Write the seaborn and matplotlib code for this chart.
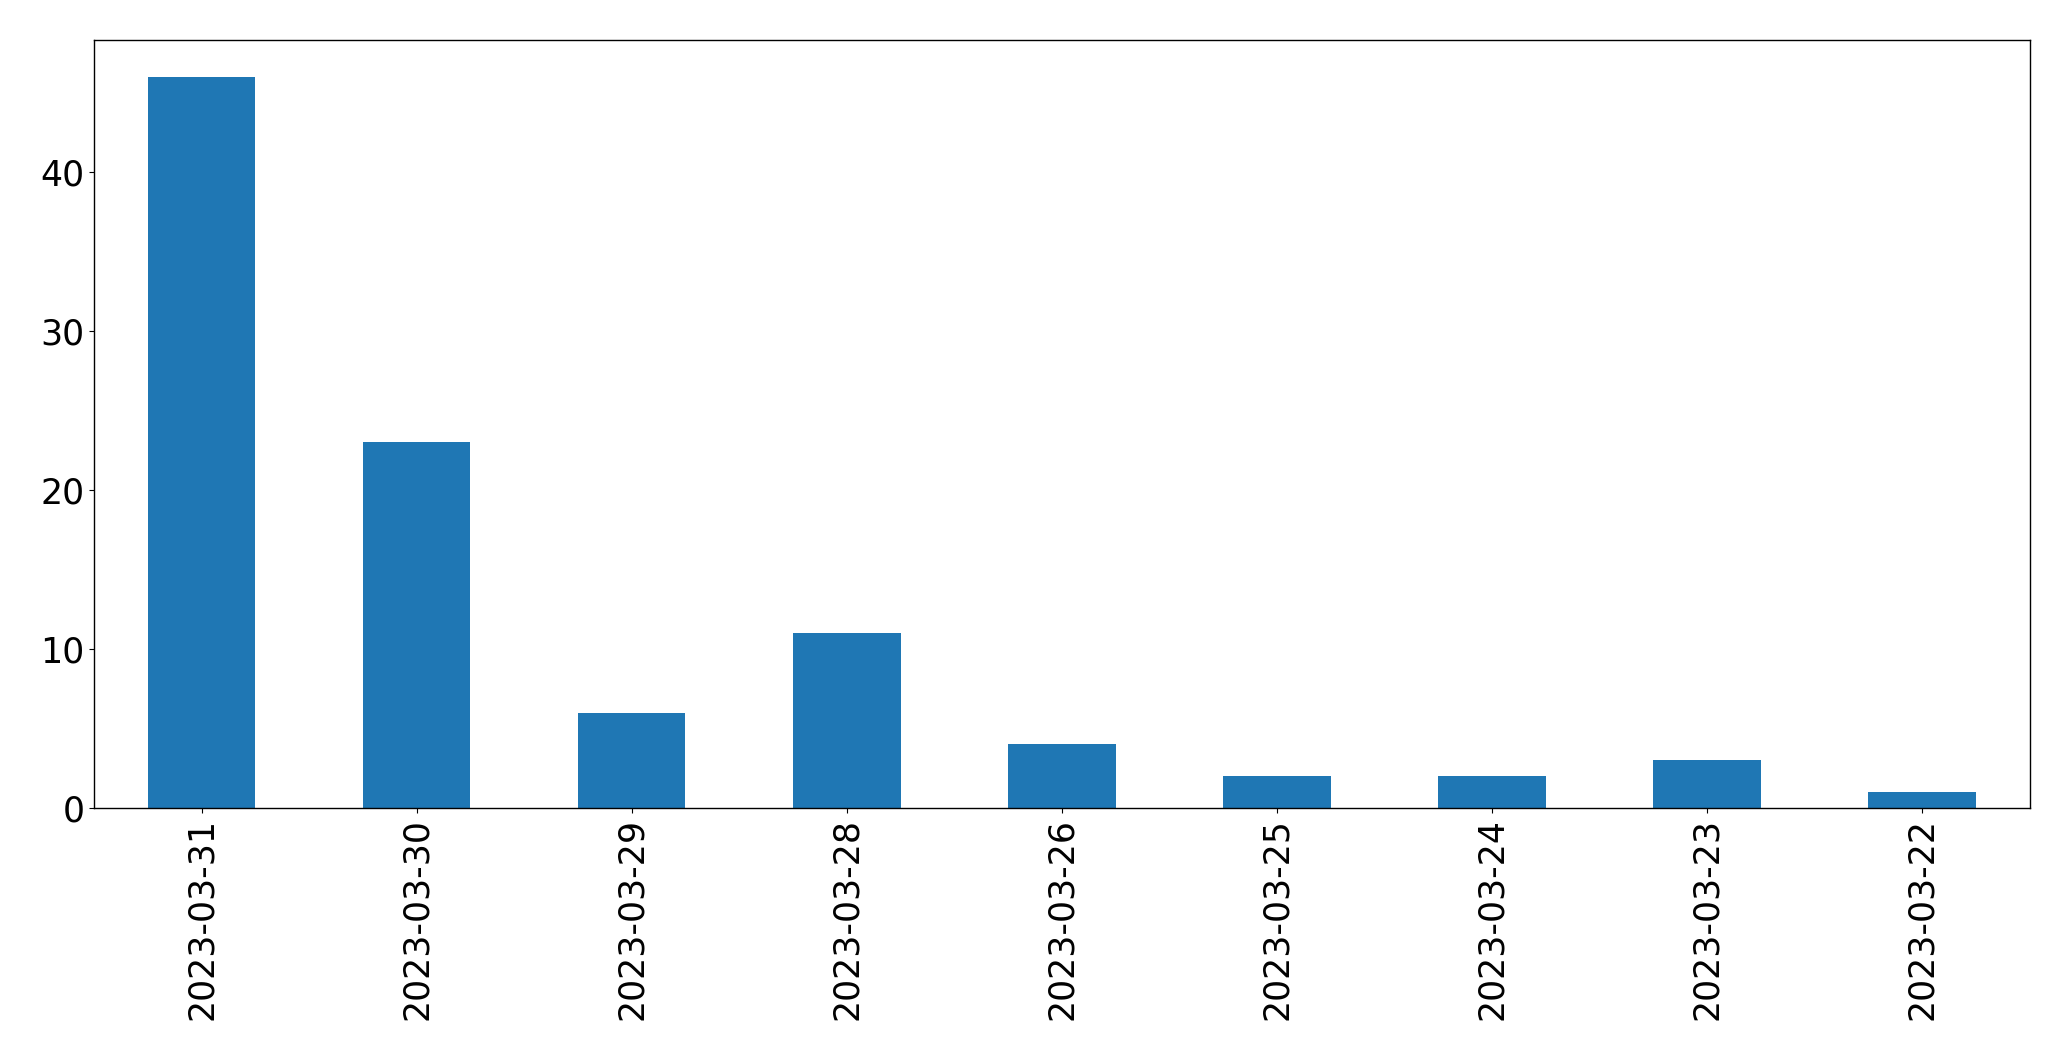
import matplotlib
matplotlib.use("Agg")
import matplotlib.pyplot as plt
import seaborn as sns
import pandas as pd

dates = ["2023-03-31", "2023-03-30", "2023-03-29", "2023-03-28", "2023-03-26",
         "2023-03-25", "2023-03-24", "2023-03-23", "2023-03-22"]
counts = [46, 23, 6, 11, 4, 2, 2, 3, 1]

df = pd.DataFrame({"date": dates, "count": counts})

fig, ax = plt.subplots(figsize=(20.71, 10.61), dpi=100)
sns.barplot(data=df, x="date", y="count", color="#1f77b4", saturation=1,
            width=0.5, ax=ax)
ax.set_xlim(-0.5, len(dates) - 0.5)
ax.set_ylim(0, max(counts) * 1.05)
ax.set_xlabel("")
ax.set_ylabel("")
for spine in ax.spines.values():
    spine.set_color("black")
    spine.set_linewidth(1.0)
ax.tick_params(axis="both", labelsize=25, colors="black")
ax.tick_params(axis="x", labelrotation=90)

plt.subplots_adjust(left=0.0454, right=0.980, top=0.962, bottom=0.2385)
plt.savefig("out.png", dpi=100)
